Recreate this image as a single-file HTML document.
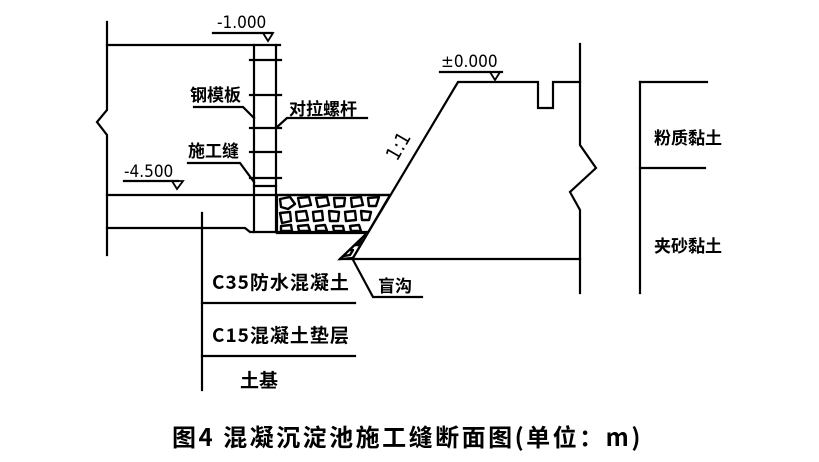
<!DOCTYPE html>
<html><head><meta charset="utf-8"><style>
html,body{margin:0;padding:0;background:#fff;}
svg{display:block;}
text{font-family:"Liberation Sans","Noto Sans CJK SC",sans-serif;fill:#000;}
.c{font-family:"Noto Sans CJK SC","WenQuanYi Zen Hei",sans-serif;font-weight:bold;}
.n{font-family:"DejaVu Sans Condensed","Liberation Sans Narrow","Liberation Sans",sans-serif;}
</style></head><body>
<svg width="819" height="462" viewBox="0 0 819 462" xmlns="http://www.w3.org/2000/svg">
<defs>
<clipPath id="g"><polygon points="277,195 390,195 353,258 340,259 367,233 277,233"/></clipPath>
</defs>
<g stroke="#000" stroke-width="2.2" fill="none" stroke-linecap="square">
<polyline points="107,22 107,110 97,122 107,135 107,255"/>
<line x1="107" y1="45" x2="280" y2="45"/>
<line x1="254" y1="45" x2="254" y2="232"/>
<line x1="276" y1="45" x2="276" y2="232"/>
<line x1="250" y1="60" x2="281" y2="60"/>
<line x1="250" y1="95" x2="281" y2="95"/>
<line x1="250" y1="128" x2="281" y2="128"/>
<line x1="250" y1="152" x2="281" y2="152"/>
<line x1="250" y1="178" x2="281" y2="178"/>
<line x1="254" y1="186" x2="276" y2="186"/>
<line x1="107" y1="195" x2="390" y2="195"/>
<polyline points="107,228 245,228 250,232 367,232"/>
<polyline points="213,33 272,33"/>
<polygon points="263,33 273,33 268,41" stroke-width="1.8"/>
<polyline points="194,107 243,107 254,118"/>
<polyline points="367,118 287,118 276,128"/>
<polyline points="188,163 240,163 254,182"/>
<polyline points="124,181 178,181"/>
<polygon points="172,181 183,181 177,189" stroke-width="1.8"/>
<polyline points="353,258 458,82 538,82 538,108 553,108 553,82 580,82"/>
<polyline points="580,44 580,145 596,168 570,192 580,210 580,293"/>
<line x1="340" y1="259" x2="580" y2="259"/>
<line x1="367" y1="233" x2="340" y2="259"/>
<polyline points="440,72 502,72"/>
<polygon points="490,72 500,72 495,80" stroke-width="1.8"/>
<polyline points="352,258 373,297 422,297"/>
<line x1="640" y1="82" x2="640" y2="293"/>
<line x1="640" y1="82" x2="707" y2="82"/>
<line x1="640" y1="168" x2="705" y2="168"/>
<line x1="202" y1="213" x2="202" y2="390"/>
<line x1="202" y1="303" x2="355" y2="303"/>
<line x1="202" y1="356" x2="355" y2="356"/>
</g>
<g clip-path="url(#g)" stroke="#000" stroke-width="2.4" fill="#fff" stroke-linejoin="round">
<polygon points="280,199 290,197 295,204 288,209 281,207"/>
<polygon points="298,198 309,197 311,205 300,207"/>
<polygon points="316,198 327,197 329,205 318,207"/>
<polygon points="334,198 345,198 344,206 335,207"/>
<polygon points="351,198 361,197 363,205 352,207"/>
<polygon points="368,198 379,197 376,206 369,206"/>
<polygon points="280,213 290,212 291,221 282,223"/>
<polygon points="296,212 306,211 308,220 297,221"/>
<polygon points="313,212 322,211 323,220 314,221"/>
<polygon points="329,211 339,212 338,221 330,221"/>
<polygon points="345,212 355,211 356,220 346,221"/>
<polygon points="361,211 371,212 369,220 362,220"/>
<polygon points="281,226 291,225 292,231 281,231"/>
<polygon points="298,226 308,225 310,231 299,231"/>
<polygon points="316,226 325,225 327,231 316,231"/>
<polygon points="333,226 343,226 344,231 334,231"/>
<polygon points="350,226 359,225 361,231 351,231"/>
<polygon points="355,238 362,238 358,245 351,245"/>
<polygon points="348,250 353,250 350,255 344,256"/>
</g>
<polygon points="277,195 390,195 353,258 340,259 367,233 277,233" fill="none" stroke="#000" stroke-width="2.2"/>
<text class="n" x="217" y="28" font-size="17">-1.000</text>
<text class="n" x="124" y="177" font-size="17">-4.500</text>
<text class="n" x="441" y="67" font-size="17">±0.000</text>
<text class="c" x="190" y="101" font-size="17">钢模板</text>
<text class="c" x="289" y="115" font-size="17">对拉螺杆</text>
<text class="c" x="188" y="157" font-size="17">施工缝</text>
<text class="c" x="378" y="292" font-size="17">盲沟</text>
<text class="c" x="654" y="144" font-size="17">粉质黏土</text>
<text class="c" x="654" y="252" font-size="17">夹砂黏土</text>
<text class="c" x="212" y="289" font-size="19" letter-spacing="1">C35防水混凝土</text>
<text class="c" x="212" y="342" font-size="19" letter-spacing="1">C15混凝土垫层</text>
<text class="c" x="240" y="387" font-size="19">土基</text>
<text class="n" x="0" y="0" font-size="20" transform="translate(397,162) rotate(-60)">1:1</text>
<text class="c" x="172" y="446" font-size="24" font-weight="900" letter-spacing="2.5">图4  混凝沉淀池施工缝断面图(单位：m)</text>
</svg>
</body></html>
